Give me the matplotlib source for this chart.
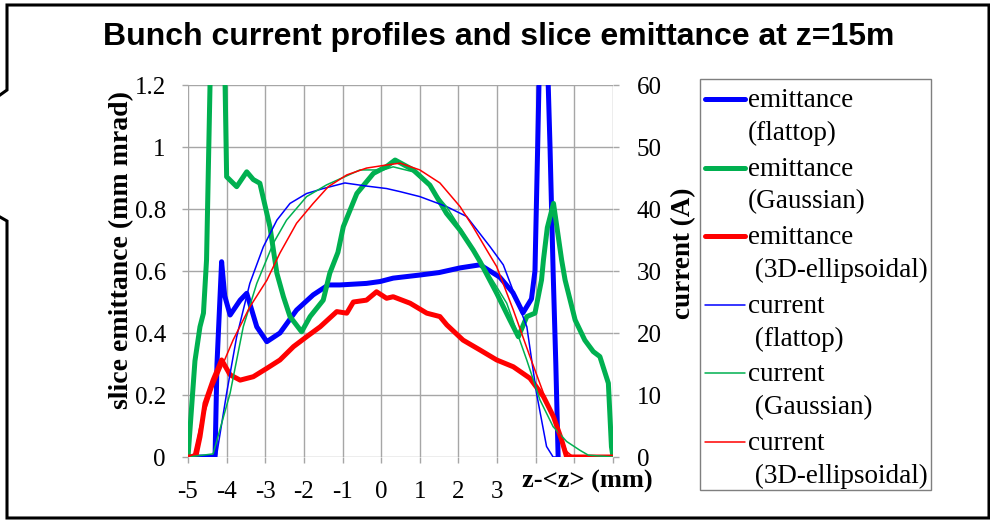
import matplotlib
matplotlib.use("Agg")
import matplotlib.pyplot as plt
from matplotlib import font_manager
from matplotlib.lines import Line2D
from matplotlib.patches import Rectangle

# ---- data (z in mm) ----
z_emit_flat = [-5.0, -4.4, -4.3, -4.25, -4.13, -4.05, -3.91, -3.65, -3.48, -3.22, -2.96, -2.62,
               -2.19, -1.76, -1.37, -1.07, -0.38, -0.03, 0.31, 1.0, 1.5, 2.04, 2.56, 3.07, 3.41,
               3.67, 3.89, 3.98, 4.05, 4.1, 4.2, 4.3, 4.37, 4.45, 4.52, 4.58]
emit_flat = [0.0, 0.0, 0.0, 0.3, 0.63, 0.52, 0.458, 0.506, 0.528, 0.42, 0.372, 0.40,
             0.474, 0.523, 0.555, 0.555, 0.56, 0.566, 0.577, 0.587, 0.595, 0.61, 0.62, 0.58, 0.53,
             0.465, 0.51, 0.6, 1.0, 1.3, 1.5, 1.3, 1.0, 0.6, 0.3, 0.0]

z_emit_gauss = [-5.0, -4.82, -4.69, -4.6, -4.52, -4.43, -4.25, -4.04, -4.0, -3.74, -3.48,
                -3.31, -3.14, -2.88, -2.7, -2.53, -2.36, -2.06, -1.84, -1.5, -1.33, -1.12, -0.98,
                -0.63, -0.2, 0.14, 0.36, 0.83, 1.26, 1.69, 2.04, 2.38, 2.56, 2.99, 3.33,
                3.55, 3.77, 3.98, 4.15, 4.2, 4.3, 4.46, 4.67, 4.76, 5.02, 5.27, 5.49, 5.66,
                5.88, 5.96, 6.0]
emit_gauss = [0.0, 0.31, 0.42, 0.464, 0.636, 1.2, 1.45, 1.2, 0.904, 0.872, 0.92,
              0.895, 0.883, 0.743, 0.593, 0.517, 0.453, 0.404, 0.453, 0.506, 0.593, 0.66, 0.743,
              0.85, 0.915, 0.937, 0.958, 0.926, 0.877, 0.786, 0.732, 0.668, 0.63, 0.528, 0.442,
              0.388, 0.453, 0.464, 0.571, 0.636, 0.74, 0.818, 0.636, 0.571, 0.442, 0.377, 0.34,
              0.324, 0.238, 0.033, 0.0]

z_emit_ellip = [-5.0, -4.8, -4.69, -4.56, -4.35, -4.13, -3.91, -3.65, -3.31, -2.96, -2.62, -2.27,
                -1.93, -1.58, -1.15, -0.89, -0.72, -0.38, -0.12, 0.14, 0.31, 0.75, 1.18,
                1.52, 1.7, 2.12, 2.56, 2.99, 3.42, 3.85, 4.2, 4.46, 4.67, 4.8, 6.0]
emit_ellip = [0.0, 0.0, 0.065, 0.173, 0.248, 0.313, 0.265, 0.248, 0.259, 0.286, 0.313, 0.356,
              0.388, 0.42, 0.469, 0.464, 0.50, 0.506, 0.533, 0.512, 0.517, 0.496, 0.464,
              0.453, 0.426, 0.377, 0.345, 0.313, 0.291, 0.254, 0.195, 0.13, 0.055, 0.0, 0.0]

z_cur_flat = [-5.0, -4.35, -4.26, -4.0, -3.74, -3.4, -3.05, -2.7, -2.36, -1.93, -1.5, -0.94,
              -0.38, 0.14, 0.49, 1.0, 1.69, 2.21, 2.82, 3.16, 3.77, 4.02, 4.28, 4.45, 4.6]
cur_flat = [0.0, 0.0, 0.3, 10.3, 19.4, 28.0, 33.9, 38.2, 40.9, 42.5, 43.3, 44.2,
            43.7, 43.3, 42.8, 42.0, 40.4, 38.8, 33.9, 31.0, 21.0, 10.3, 1.7, 0.0, 0.0]

z_cur_gauss = [-5.0, -4.35, -3.91, -3.57, -3.22, -2.79, -2.45, -1.93, -1.41, -0.55,
               0.05, 0.31, 0.83, 1.26, 1.69, 2.13, 2.56, 3.25, 3.77, 4.11, 4.45, 4.8,
               5.14, 5.36, 6.0]
cur_gauss = [0.0, 0.5, 10.3, 21.0, 28.0, 34.5, 38.2, 42.0, 43.9, 46.3,
             46.3, 46.8, 46.0, 43.6, 40.4, 36.1, 31.8, 24.8, 15.6, 9.2, 4.9, 2.5,
             1.1, 0.3, 0.0]

z_cur_ellip = [-5.0, -4.85, -4.69, -4.35, -3.83, -3.4, -2.96, -2.62, -2.19, -1.76, -1.37,
               -0.89, -0.38, 0.14, 0.49, 1.0, 1.52, 2.04, 2.38, 2.73, 2.99, 3.42,
               3.85, 4.2, 4.54, 4.8, 4.97]
cur_ellip = [0.0, 0.5, 4.9, 11.3, 18.9, 24.2, 28.5, 32.9, 37.7, 40.9, 43.6,
             45.5, 46.6, 47.1, 47.4, 46.3, 44.2, 40.4, 37.1, 33.4, 30.7, 23.7,
             16.2, 10.3, 4.9, 0.9, 0.0]

x_ticks = [-5, -4, -3, -2, -1, 0, 1, 2, 3, 4, 5, 6]
x_tick_labels = ["-5", "-4", "-3", "-2", "-1", "0", "1", "2", "3", "", "", ""]
emit_ticks = [0, 0.2, 0.4, 0.6, 0.8, 1.0, 1.2]
emit_tick_labels = ["0", "0.2", "0.4", "0.6", "0.8", "1", "1.2"]
cur_ticks = [0, 10, 20, 30, 40, 50, 60]

legend_entries = [
    ("emittance", "(flattop)", "#0000FF", 3.6),
    ("emittance", "(Gaussian)", "#00B050", 3.6),
    ("emittance", " (3D-ellipsoidal)", "#FF0000", 3.6),
    ("current", " (flattop)", "#0000FF", 1.1),
    ("current", " (Gaussian)", "#00B050", 1.1),
    ("current", " (3D-ellipsoidal)", "#FF0000", 1.1),
]

BLUE, GREEN, RED = "#0000FF", "#00B050", "#FF0000"
GRID = "#a6a6a6"
W, H = 990, 520
SERIF = "Liberation Serif"


def fx(x):
    return x / W


def fy(y):
    return 1 - y / H


def title_font():
    # the slide uses a narrow bold sans; fall back to a smaller regular width
    try:
        font_manager.findfont(font_manager.FontProperties(family="Liberation Sans Narrow"),
                              fallback_to_default=False)
        return "Liberation Sans Narrow", 24
    except ValueError:
        return "Liberation Sans", 23


fig = plt.figure(figsize=(W / 100, H / 100), dpi=100)
ax = fig.add_axes([fx(188), fy(457), fx(613 - 188), (457 - 85) / H])
ax2 = ax.twinx()

ax.plot(z_emit_flat, emit_flat, color=BLUE, lw=3.6, solid_joinstyle="round")
ax.plot(z_emit_gauss, emit_gauss, color=GREEN, lw=3.6, solid_joinstyle="round")
ax.plot(z_emit_ellip, emit_ellip, color=RED, lw=3.6, solid_joinstyle="round")
ax2.plot(z_cur_flat, cur_flat, color=BLUE, lw=1.1)
ax2.plot(z_cur_gauss, cur_gauss, color=GREEN, lw=1.1)
ax2.plot(z_cur_ellip, cur_ellip, color=RED, lw=1.1)

ax.set_xlim(-5, 6)
ax.set_ylim(0, 1.2)
ax2.set_ylim(0, 60)
ax.set_xticks(x_ticks)
ax.set_xticklabels(x_tick_labels, fontfamily=SERIF, fontsize=18)
ax.set_yticks(emit_ticks)
ax.set_yticklabels(emit_tick_labels, fontfamily=SERIF, fontsize=18)
ax2.set_yticks(cur_ticks)
ax2.set_yticklabels([str(t) for t in cur_ticks], fontfamily=SERIF, fontsize=18)

ax.set_axisbelow(True)
ax.grid(True, color=GRID, lw=1.0)
for a in (ax, ax2):
    for s in a.spines.values():
        s.set_visible(False)
ax.tick_params(axis="both", length=4, width=1.0, color=GRID)
ax.tick_params(axis="x", pad=13)
ax.tick_params(axis="y", pad=12)
ax2.tick_params(axis="y", length=4, width=1.0, color=GRID, pad=13)

fig.text(fx(122), fy(250), "slice emittance (mm mrad)", rotation=90, ha="center",
         va="center", fontfamily=SERIF, fontweight="bold", fontsize=20)
fig.text(fx(684), fy(253), "current (A)", rotation=90, ha="center", va="center",
         fontfamily=SERIF, fontweight="bold", fontsize=19.5)
fig.text(fx(587), fy(481), "z-<z> (mm)", ha="center", va="center",
         fontfamily=SERIF, fontweight="bold", fontsize=19)

tfam, tsize = title_font()
fig.text(fx(499), fy(37), "Bunch current profiles and slice emittance at z=15m",
         ha="center", va="center", fontfamily=tfam, fontweight="bold", fontsize=tsize)

# legend drawn by hand so the handle sits next to the first text line
fig.add_artist(Rectangle((fx(700), fy(490)), fx(931 - 700), (490 - 79) / H,
                         transform=fig.transFigure, fill=False, edgecolor="#7f7f7f", lw=1.0))
for i, (l1, l2, col, lw) in enumerate(legend_entries):
    yh = 99 + 68.6 * i
    fig.add_artist(Line2D([fx(705), fx(745)], [fy(yh), fy(yh)], color=col, lw=lw,
                          solid_capstyle="round", transform=fig.transFigure))
    fig.text(fx(748), fy(yh + 8), l1, va="baseline", fontfamily=SERIF, fontsize=19.5)
    fig.text(fx(748), fy(yh + 41), l2, va="baseline", fontfamily=SERIF, fontsize=19.5)

# callout-shaped border around the slide graphic
frame_x = [0, 7, 7, 989, 989, 7, 7, 0]
frame_y = [95, 90, 5, 5, 518, 518, 221, 217]
fig.add_artist(Line2D([fx(v) for v in frame_x], [fy(v) for v in frame_y], color="black",
                      lw=2.2, solid_joinstyle="miter", transform=fig.transFigure))

fig.savefig("out.png", dpi=100)
